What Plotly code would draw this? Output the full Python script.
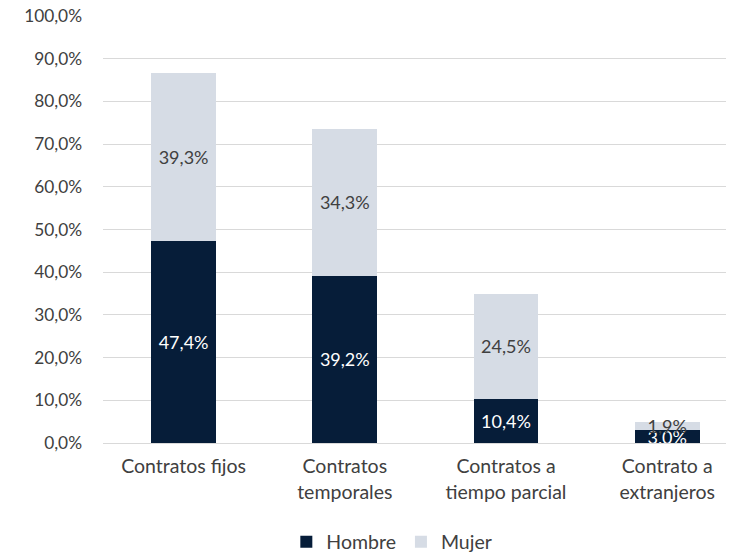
import plotly.graph_objects as go

categories = ["Contratos fijos", "Contratos<br>temporales", "Contratos a<br>tiempo parcial", "Contrato a<br>extranjeros"]
hombre = [47.4, 39.2, 10.4, 3.0]
mujer = [39.3, 34.3, 24.5, 1.9]
y_ticks = [0, 10, 20, 30, 40, 50, 60, 70, 80, 90, 100]
y_ticktext = [f"{v:.1f}%".replace(".", ",") for v in y_ticks]

FONT = "Lato, 'Open Sans', sans-serif"
TXT = "#404040"

fig = go.Figure()
fig.add_trace(go.Bar(
    x=categories, y=hombre, name="Hombre",
    marker=dict(color="#061d39", line=dict(width=0)),
    texttemplate="%{y:.1f}%", textposition="inside", insidetextanchor="middle",
    textfont=dict(color="white", size=18, family=FONT), constraintext="none",
))
fig.add_trace(go.Bar(
    x=categories, y=mujer, name="Mujer",
    marker=dict(color="#d6dce5", line=dict(width=0)),
    texttemplate="%{y:.1f}%", textposition="inside", insidetextanchor="middle",
    textfont=dict(color=TXT, size=18, family=FONT), constraintext="none",
))

fig.update_layout(
    barmode="stack",
    bargap=0.597,
    width=734, height=556,
    margin=dict(l=95, r=0, t=8, b=121, autoexpand=False),
    paper_bgcolor="white", plot_bgcolor="white",
    separators=",.",
    font=dict(family=FONT, size=18, color=TXT),
    uniformtext=dict(mode=False),
    legend=dict(orientation="h", x=0.452, xanchor="center", y=-0.232, yanchor="middle",
                font=dict(size=19.5, color=TXT), traceorder="normal", itemwidth=30),
    yaxis=dict(range=[0, 100], tickvals=y_ticks, ticktext=y_ticktext,
               showgrid=True, gridcolor="#d9d9d9", gridwidth=1, zeroline=False,
               showline=False, ticklabelstandoff=20, fixedrange=True, automargin=False,
               ticklabeloverflow="allow",
               tickfont=dict(size=17.3, color=TXT)),
    xaxis=dict(range=[-0.5, 3.464], showline=True, linecolor="#d9d9d9", linewidth=1, ticks="",
               automargin=False, fixedrange=True, ticklabeloverflow="allow",
               tickfont=dict(size=19.5, color=TXT), ticklabelstandoff=6),
)

fig.write_html("out.html")
